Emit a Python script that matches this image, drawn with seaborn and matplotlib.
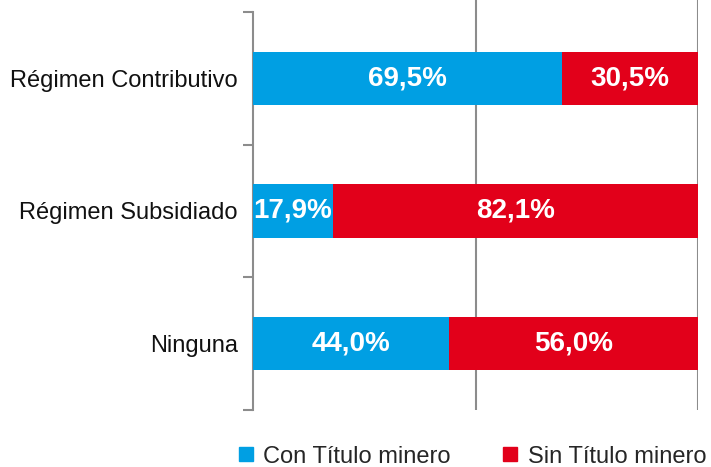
import seaborn as sns
import matplotlib.pyplot as plt
from matplotlib.lines import Line2D
import pandas as pd

categorias = ['Régimen Contributivo', 'Régimen Subsidiado', 'Ninguna']
con_titulo = [69.5, 17.9, 44.0]
sin_titulo = [30.5, 82.1, 56.0]
series = ['Con Título minero', 'Sin Título minero']

azul = '#009FE3'
rojo = '#E2001A'
gris = '#8C8C8C'

sns.set_theme(style='white')
plt.rcParams['font.family'] = ['Liberation Sans', 'DejaVu Sans']

df = pd.DataFrame({'cat': categorias, 'con': con_titulo, 'sin': sin_titulo})
df['total'] = df['con'] + df['sin']

fig = plt.figure(figsize=(7.11, 4.67), dpi=100)
ax = fig.add_axes([0.356, 0.122, 0.626, 0.878])

# barra total (rojo) y encima la parte azul
sns.barplot(data=df, x='total', y='cat', color=rojo, width=0.4, orient='h',
            saturation=1, linewidth=0, ax=ax, zorder=3)
sns.barplot(data=df, x='con', y='cat', color=azul, width=0.4, orient='h',
            saturation=1, linewidth=0, ax=ax, zorder=4)

for i, (c, s) in enumerate(zip(con_titulo, sin_titulo)):
    ax.text(c / 2, i, f'{c:.1f}%'.replace('.', ','), color='white',
            fontsize=20, fontweight='bold', ha='center', va='center', zorder=5)
    ax.text(c + s / 2, i, f'{s:.1f}%'.replace('.', ','), color='white',
            fontsize=20, fontweight='bold', ha='center', va='center', zorder=5)

ax.set_xlim(0, 100)
ax.set_ylim(2.5, -0.59)
ax.set_xticks([50, 100])
ax.set_xticklabels([])
ax.tick_params(axis='x', length=0)
ax.xaxis.grid(True, color=gris, linewidth=1.5, zorder=1)
ax.set_axisbelow(True)

ax.set_yticks([0, 1, 2])
ax.set_yticklabels(categorias, fontsize=17, color='#111111')
ax.set_yticks([-0.5, 0.5, 1.5, 2.5], minor=True)
ax.tick_params(axis='y', which='major', length=0, pad=11)
ax.tick_params(axis='y', which='minor', length=7, width=1.5, color=gris, left=True)
ax.set_xlabel('')
ax.set_ylabel('')

for lado in ['top', 'right', 'bottom']:
    ax.spines[lado].set_visible(False)
ax.spines['left'].set_color(gris)
ax.spines['left'].set_linewidth(1.5)
ax.spines['left'].set_bounds(-0.5, 2.5)

handles = [Line2D([], [], marker='s', linestyle='', markersize=10, color=azul),
           Line2D([], [], marker='s', linestyle='', markersize=10, color=rojo)]
fig.legend(handles, series, loc='center left', bbox_to_anchor=(0.329, 0.022), ncol=2,
           frameon=False, fontsize=17, handlelength=1.0, handletextpad=0.25,
           columnspacing=2.0, borderaxespad=0, borderpad=0)

fig.savefig('out.png', dpi=100)
